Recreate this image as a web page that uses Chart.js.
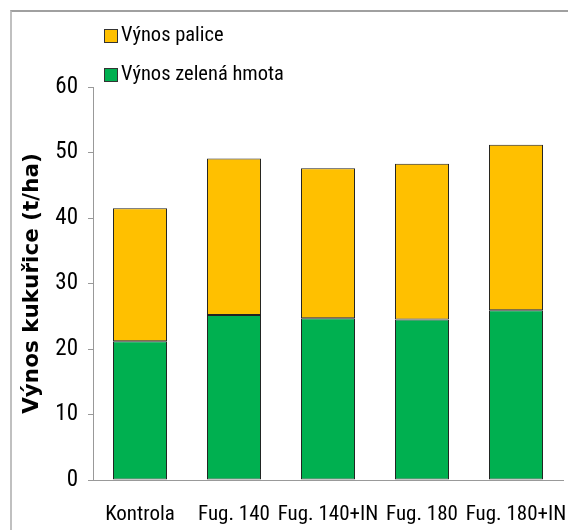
<!DOCTYPE html>
<html lang="cs">
<head>
<meta charset="UTF-8">
<title>Výnos kukuřice</title>
<script src="https://cdn.jsdelivr.net/npm/chart.js"></script>
<style>
  body {
    margin: 0;
    background: #fff;
  }
  .wrap {
    position: relative;
    width: 568px;
    height: 530px;
  }
  .frame {
    position: absolute;
    left: 10px;
    top: 10px;
    right: 0;
    bottom: 0;
    border-top: 2px solid #a0a0a0;
    border-left: 2px solid #c0c0c0;
    pointer-events: none;
  }
</style>
</head>
<body>

<div class="wrap">
  <canvas id="chart" width="568" height="530"></canvas>
  <div class="frame"></div>
</div>

<script>
const categories = ['Kontrola', 'Fug. 140', 'Fug. 140+IN', 'Fug. 180', 'Fug. 180+IN'];
const zelenaHmota = [21.2, 25.2, 24.7, 24.5, 25.9];
const palice = [20.3, 23.9, 22.9, 23.8, 25.3];

const narrow = "'Roboto Condensed', 'DejaVu Sans Condensed', sans-serif";

// legend drawn as a vertical list above the plot, like the original
const stackLegend = {
  id: 'stackLegend',
  afterDraw(chart, args, opts) {
    const ctx = chart.ctx;
    const sets = chart.data.datasets.slice().reverse();
    ctx.save();
    ctx.font = '20.5px ' + narrow;
    ctx.textBaseline = 'middle';
    sets.forEach((ds, i) => {
      const y = opts.y + i * opts.rowGap;
      ctx.fillStyle = ds.backgroundColor;
      ctx.fillRect(opts.x, y - 7, 14, 14);
      ctx.strokeStyle = '#333';
      ctx.lineWidth = 1;
      ctx.strokeRect(opts.x + 0.5, y - 6.5, 13, 13);
      ctx.fillStyle = '#000';
      ctx.fillText(ds.label, opts.x + 17, y);
    });
    ctx.restore();
  }
};

new Chart(document.getElementById('chart'), {
  type: 'bar',
  data: {
    labels: categories,
    datasets: [
      {
        label: 'Výnos zelená hmota',
        data: zelenaHmota,
        backgroundColor: '#00B050',
        borderColor: '#222',
        borderWidth: 1,
        borderSkipped: false
      },
      {
        label: 'Výnos palice',
        data: palice,
        backgroundColor: '#FFC000',
        borderColor: '#222',
        borderWidth: 1,
        borderSkipped: false
      }
    ]
  },
  options: {
    responsive: false,
    animation: false,
    events: [],
    layout: { padding: { top: 87, right: 5, bottom: 0, left: 0 } },
    datasets: {
      bar: { categoryPercentage: 1, barPercentage: 0.575 }
    },
    plugins: {
      legend: { display: false },
      tooltip: { enabled: false },
      stackLegend: { x: 104, y: 36, rowGap: 39 }
    },
    scales: {
      x: {
        stacked: true,
        grid: { display: false, drawTicks: false },
        border: { display: true, color: '#999' },
        ticks: {
          color: '#000',
          font: { family: narrow, size: 21 },
          padding: 22,
          maxRotation: 0,
          autoSkip: false
        },
        afterFit(scale) {
          scale.height = 50;
          scale.paddingLeft = 0;
          scale.paddingRight = 0;
        }
      },
      y: {
        stacked: true,
        min: 0,
        max: 60,
        ticks: {
          stepSize: 10,
          color: '#000',
          font: { family: narrow, size: 23 },
          padding: 10
        },
        grid: {
          drawOnChartArea: false,
          drawTicks: true,
          tickLength: 5,
          color: '#999'
        },
        border: { display: true, color: '#999' },
        title: {
          display: true,
          text: 'Výnos kukuřice (t/ha)',
          color: '#000',
          font: { family: "'DejaVu Sans', sans-serif", size: 21.5, weight: 'bold' },
          padding: { top: 20, bottom: 0 }
        },
        afterFit(scale) { scale.width = 93; }
      }
    }
  },
  plugins: [stackLegend]
});
</script>

</body>
</html>
